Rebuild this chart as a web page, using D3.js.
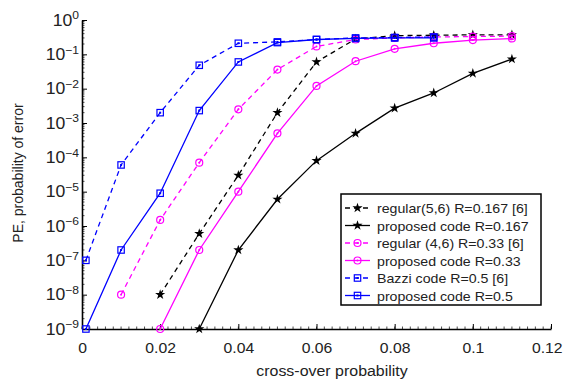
<!DOCTYPE html>
<html>
<head>
<meta charset="utf-8">
<script src="https://cdn.jsdelivr.net/npm/d3@7"></script>
<style>
  body { margin: 0; background: #fff; }
  svg { display: block; font-family: "Liberation Sans", Arial, sans-serif; }
</style>
</head>
<body>
<div id="chart"></div>
<script>
// cross-over probability / error probability per curve
const regular56X = [0.02, 0.03, 0.04, 0.05, 0.06, 0.07, 0.08, 0.09, 0.1, 0.11];
const regular56Y = [1e-8, 6e-7, 3e-5, 2e-3, 0.06, 0.28, 0.35, 0.36, 0.37, 0.37];

const proposed167X = [0.03, 0.04, 0.05, 0.06, 0.07, 0.08, 0.09, 0.1, 0.11];
const proposed167Y = [1e-9, 2e-7, 6e-6, 8e-5, 5e-4, 2.7e-3, 7.5e-3, 0.028, 0.073];

const regular46X = [0.01, 0.02, 0.03, 0.04, 0.05, 0.06, 0.07, 0.08, 0.09, 0.1, 0.11];
const regular46Y = [1e-8, 1.5e-6, 7e-5, 2.5e-3, 0.036, 0.17, 0.27, 0.3, 0.32, 0.33, 0.34];

const proposed33X = [0.02, 0.03, 0.04, 0.05, 0.06, 0.07, 0.08, 0.09, 0.1, 0.11];
const proposed33Y = [1e-9, 2e-7, 1e-5, 5e-4, 0.012, 0.063, 0.145, 0.21, 0.26, 0.29];

const bazziX = [0.001, 0.01, 0.02, 0.03, 0.04, 0.05, 0.06, 0.07, 0.08, 0.09];
const bazziY = [1e-7, 6e-5, 2e-3, 0.048, 0.21, 0.23, 0.27, 0.3, 0.31, 0.32];

const proposed5X = [0.001, 0.01, 0.02, 0.03, 0.04, 0.05, 0.06, 0.07, 0.08, 0.09];
const proposed5Y = [1e-9, 2e-7, 9e-6, 2.3e-3, 0.06, 0.22, 0.27, 0.29, 0.3, 0.3];

const xTicks = [0, 0.02, 0.04, 0.06, 0.08, 0.1, 0.12];
const yExps = [0, -1, -2, -3, -4, -5, -6, -7, -8, -9];

const seriesNames = ['regular(5,6) R=0.167 [6]', 'proposed code R=0.167',
  'regular (4,6) R=0.33 [6]', 'proposed code R=0.33',
  'Bazzi code R=0.5 [6]', 'proposed code R=0.5'];

const series = [
  { name: seriesNames[0], xs: regular56X, ys: regular56Y, color: '#000', dash: true, marker: 'star' },
  { name: seriesNames[1], xs: proposed167X, ys: proposed167Y, color: '#000', dash: false, marker: 'star' },
  { name: seriesNames[2], xs: regular46X, ys: regular46Y, color: '#ff00ff', dash: true, marker: 'circle' },
  { name: seriesNames[3], xs: proposed33X, ys: proposed33Y, color: '#ff00ff', dash: false, marker: 'circle' },
  { name: seriesNames[4], xs: bazziX, ys: bazziY, color: '#0000ff', dash: true, marker: 'square' },
  { name: seriesNames[5], xs: proposed5X, ys: proposed5Y, color: '#0000ff', dash: false, marker: 'square' }
];

const W = 566, H = 380;
const plotL = 82, plotR = 551, plotT = 20, plotB = 329;
const stretch = 1.1; // the original figure is a bit wider than tall

const svg = d3.select('#chart').append('svg')
  .attr('width', W).attr('height', H);

const x = d3.scaleLinear().domain([0, 0.12]).range([plotL, plotR]);
const y = d3.scaleLog().domain([1e-9, 1]).range([plotB, plotT]);

// minor ticks on x
const xMinor = d3.range(0, 0.1201, 0.002);
svg.append('g').selectAll('line').data(xMinor).enter().append('line')
  .attr('x1', d => x(d)).attr('x2', d => x(d))
  .attr('y1', plotB).attr('y2', plotB - 2.5)
  .attr('stroke', '#000').attr('stroke-width', 0.7);

// minor ticks on y
const yMinor = [];
for (let e = -9; e < 0; e++) {
  for (let k = 2; k <= 9; k++) yMinor.push(k * Math.pow(10, e));
}
svg.append('g').selectAll('line').data(yMinor).enter().append('line')
  .attr('x1', plotL).attr('x2', plotL + 2.5)
  .attr('y1', d => y(d)).attr('y2', d => y(d))
  .attr('stroke', '#000').attr('stroke-width', 0.7);

// x axis
const xAxis = d3.axisBottom(x).tickValues(xTicks).tickSizeInner(-5).tickSizeOuter(0)
  .tickFormat(d => d === 0 ? '0' : d3.format('~g')(d));
const gx = svg.append('g').attr('transform', 'translate(0,' + plotB + ')').call(xAxis);
gx.select('.domain').attr('stroke-width', 1.6);
gx.selectAll('text').attr('font-size', 15).attr('fill', '#222').attr('dy', '1.38em')
  .attr('font-family', '"Liberation Sans", Arial, sans-serif')
  .attr('transform', 'scale(1.05,1)')
  .attr('dx', d => d === 0.12 ? -4 : 0);

// y axis
const yAxis = d3.axisLeft(y).tickValues(yExps.map(e => Math.pow(10, e)))
  .tickSizeInner(-5).tickSizeOuter(0).tickFormat('');
const gy = svg.append('g').attr('transform', 'translate(' + plotL + ',0)').call(yAxis);
gy.select('.domain').attr('stroke-width', 1.6);

const yLab = svg.append('g').selectAll('text').data(yExps).enter().append('text')
  .attr('font-size', 16).attr('fill', '#222').attr('text-anchor', 'end');
yLab.append('tspan').text('10');
yLab.append('tspan').attr('dy', -6.5).attr('font-size', 11)
  .text(d => d === 0 ? '0' : '\u2212' + (-d));
yLab.attr('transform', d => 'translate(' + (plotL - 3) + ',' + (y(Math.pow(10, d)) + 5.7) +
  ') scale(' + stretch + ',1)');

// axis titles
svg.append('text').attr('transform', 'translate(332,376) scale(' + stretch + ',1)')
  .attr('text-anchor', 'middle').attr('font-size', 14.5).attr('fill', '#222')
  .text('cross-over probability');
svg.append('text').attr('transform', 'translate(23,173) rotate(-90)')
  .attr('text-anchor', 'middle').attr('font-size', 14).attr('fill', '#222')
  .text('PE, probability of error');

const line = d3.line().x(d => x(d[0])).y(d => y(d[1]));

function drawMarker(g, type, color) {
  if (type === 'star') {
    g.append('path').attr('d', d3.symbol(d3.symbolStar, 32)())
      .attr('fill', color).attr('stroke', 'none');
  } else if (type === 'circle') {
    g.append('circle').attr('r', 3.5).attr('fill', 'none')
      .attr('stroke', color).attr('stroke-width', 1.2);
    g.append('circle').attr('r', 1).attr('fill', color);
  } else {
    g.append('rect').attr('x', -3.2).attr('y', -3.2).attr('width', 6.4).attr('height', 6.4)
      .attr('fill', 'none').attr('stroke', color).attr('stroke-width', 1.2);
    g.append('rect').attr('x', -1).attr('y', -1).attr('width', 2).attr('height', 2)
      .attr('fill', color);
  }
}

series.forEach(s => {
  const pts = s.xs.map((v, i) => [v, s.ys[i]]);
  svg.append('path').datum(pts)
    .attr('d', line)
    .attr('fill', 'none')
    .attr('stroke', s.color)
    .attr('stroke-width', 1.3)
    .attr('stroke-dasharray', s.dash ? '5,4' : null);
  pts.forEach(p => {
    const g = svg.append('g').attr('transform', 'translate(' + x(p[0]) + ',' + y(p[1]) + ')');
    drawMarker(g, s.marker, s.color);
  });
});

// legend
const lg = svg.append('g');
lg.append('rect').attr('x', 341).attr('y', 194).attr('width', 200).attr('height', 111)
  .attr('fill', '#fff').attr('stroke', '#000').attr('stroke-width', 1.5);
series.forEach((s, i) => {
  const ly = 208 + i * 17.5;
  lg.append('line').attr('x1', 345).attr('x2', 370).attr('y1', ly).attr('y2', ly)
    .attr('stroke', s.color).attr('stroke-width', 1.3)
    .attr('stroke-dasharray', s.dash ? '5,4' : null);
  const g = lg.append('g').attr('transform', 'translate(357.5,' + ly + ')');
  drawMarker(g, s.marker, s.color);
  lg.append('text').attr('transform', 'translate(377,' + (ly + 5) + ') scale(1.05,1)')
    .attr('font-size', 13.5).attr('fill', '#222').text(s.name);
});
</script>
</body>
</html>
